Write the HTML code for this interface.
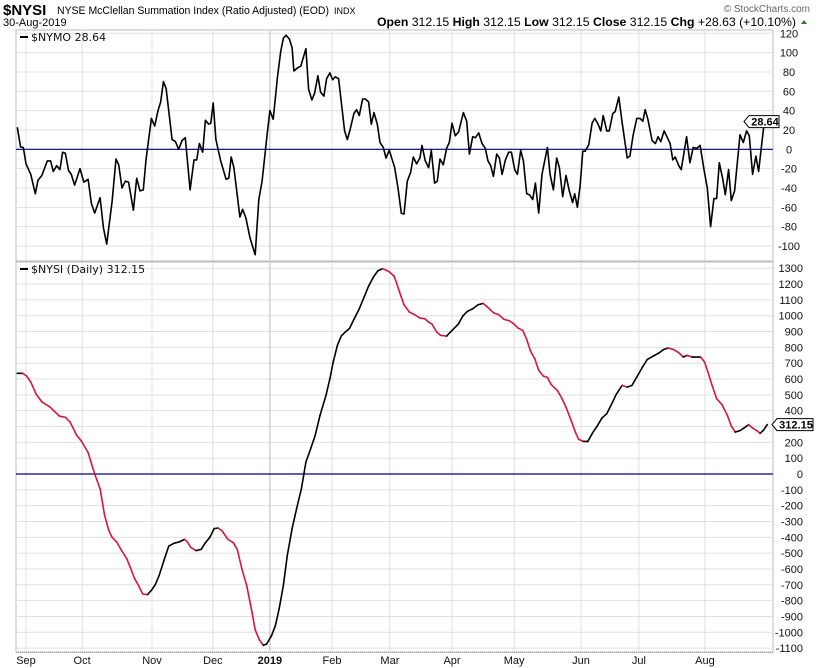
<!DOCTYPE html>
<html><head><meta charset="utf-8"><style>
body{margin:0;background:#fff;font-family:"Liberation Sans",sans-serif;}
svg{display:block}
</style></head><body>
<svg id="c" width="820" height="668" xmlns="http://www.w3.org/2000/svg" font-family="Liberation Sans, sans-serif">
<g>
<text x="3" y="15" font-size="15" font-weight="bold">$NYSI</text>
<text x="57" y="14" font-size="11" textLength="272" lengthAdjust="spacingAndGlyphs">NYSE McClellan Summation Index (Ratio Adjusted) (EOD)</text>
<text x="334" y="14" font-size="9">INDX</text>
<text x="810" y="12" font-size="10" fill="#666" text-anchor="end">© StockCharts.com</text>
<text x="3" y="26" font-size="11">30-Aug-2019</text>
<text x="377" y="26" font-size="12" textLength="419" lengthAdjust="spacingAndGlyphs"><tspan font-weight="bold">Open</tspan> 312.15 <tspan font-weight="bold">High</tspan> 312.15 <tspan font-weight="bold">Low</tspan> 312.15 <tspan font-weight="bold">Close</tspan> 312.15 <tspan font-weight="bold">Chg</tspan> +28.63 (+10.10%)</text>
<path d="M801 24 L807 24 L804 20 Z" fill="#2a7a2a"/>
</g>
<g id="grid"></g>
<g id="marks"></g>
<g id="axes"></g>
</svg>
<script>
// ---- data ----
const months = ["Sep","Oct","Nov","Dec","2019","Feb","Mar","Apr","May","Jun","Jul","Aug"];
const monthDays = [3,21.7,45,65.3,84.3,105,124.3,145,165.7,188,207.3,229.3];
const nymoDays = [0.1,1.2,2.1,3.0,4.6,6.1,7.0,8.3,10.1,11.2,12.1,13.2,14.3,15.2,16.1,17.2,18.1,19.2,21.0,22.3,23.7,24.8,25.9,27.7,28.8,29.9,31.7,33.0,33.9,35.0,36.1,37.2,38.8,39.9,41.0,42.1,43.0,44.8,45.9,47.0,47.9,48.8,49.7,51.7,52.8,53.9,55.0,56.1,57.7,59.0,59.9,60.8,61.9,62.8,63.9,64.6,65.4,66.3,67.9,69.7,70.6,71.4,72.3,74.3,75.2,76.3,77.7,79.4,80.6,81.7,83.4,84.3,85.4,86.8,87.9,88.8,89.7,90.8,91.7,92.3,93.4,94.6,96.3,97.2,98.3,99.2,100.3,101.2,102.3,103.2,104.3,105.2,106.1,107.2,109.2,110.1,111.0,112.3,113.2,114.1,115.2,116.1,117.2,118.1,119.0,120.1,121.0,122.1,123.0,124.1,
125.9,127.0,128.1,129.0,130.1,131.2,132.1,133.2,134.3,135.0,136.1,137.2,138.1,139.2,140.1,141.0,142.1,143.2,144.1,145.0,146.1,147.2,148.8,149.9,150.8,151.9,152.8,153.9,155.0,156.1,157.0,157.9,158.8,159.9,160.8,161.7,162.8,163.9,164.8,165.9,166.8,167.9,168.8,169.9,170.8,171.9,172.8,173.9,175.0,176.8,177.7,178.8,179.9,180.8,181.9,183.0,184.1,185.2,185.9,186.8,187.7,188.6,189.4,190.6,191.7,192.6,193.7,194.6,195.4,196.6,197.4,198.6,199.4,200.6,201.7,203.4,204.3,205.4,206.6,207.7,208.6,209.4,210.3,211.7,212.8,213.7,214.6,215.7,216.8,217.7,218.6,219.4,220.6,221.4,222.3,223.2,224.3,225.4,226.6,227.7,229.0,230.1,231.2,232.3,233.2,234.1,235.2,236.1,237.2,238.1,239.2,241.0,242.1,243.2,244.1,245.2,246.3,247.2,249.0,249.9];
const nymoValues = [22.8,2.4,2,-15,-26,-46,-32,-27,-12,-12,-23,-17,-21,-3,-4,-22,-26,-37,-20,-34,-31,-56,-66,-50,-81,-98,-54,-10,-16,-40,-33,-34,-63,-30,-43,-42,-11,32,24,40,49,70,63,10,8,0,9,12,-42,-11,-11,6,-3,30,26,27,48,10,-12,-31,-30,-8,-19,-70,-62,-71,-92,-109,-52,-33,16,40,31,74,101,115,118,114,105,81,84,86,104,62,51,58,76,59,55,73,79,72,75,73,19,10,20,37,41,35,52,52,49,26,38,26,7,2,-9,-1,
-19,-40,-66,-67,-33,-24,-8,-15,-9,4,-12,-19,-1,-35,-33,-10,-16,1,7,27,14,18,38,29,-5,13,12,17,6,1,-12,-17,-28,-5,-9,-26,-11,-3,-3,-21,-26,-1,-12,-46,-47,-52,-35,-66,-26,2,-26,-42,-9,-19,-49,-27,-43,-55,-46,-60,-38,-2,-2,5,27,32,26,19,35,19,19,37,39,54,28,-9,-7,15,32,32,29,41,31,9,6,13,8,19,12,6,-11,-8,-17,-21,-4,13,-14,2,1,4,-21,-40,-80,-51,-51,-14,-30,-47,-21,-53,-43,15,7,19,14,-26,-7,-23,26,28.64];
const nysiDays = [0.1,1.9,3.2,4.6,6.3,8.3,11.0,14.1,16.1,17.7,19.9,21.4,23.7,25.9,27.7,29.2,30.6,31.7,33.2,35.0,36.6,37.7,39.2,40.6,41.9,43.5,44.8,46.1,47.4,49.0,50.6,52.3,54.1,55.9,56.8,57.9,59.7,61.4,62.8,64.3,65.7,67.0,68.3,70.3,72.1,73.4,75.0,76.6,78.1,79.4,80.8,82.1,83.2,84.8,86.1,87.4,88.8,90.1,91.7,93.2,94.8,96.3,97.9,99.4,101.0,103.0,104.3,105.4,106.8,108.1,109.4,110.8,112.3,114.1,115.7,117.2,118.8,120.3,121.9,123.9,
125.7,126.8,127.9,129.0,130.8,132.6,134.3,135.9,137.2,138.3,139.9,141.2,143.2,145.0,147.2,148.6,150.1,151.9,153.7,155.4,157.2,158.8,160.6,162.3,164.1,165.7,167.0,168.6,169.9,171.2,172.6,173.9,175.4,176.8,178.1,180.1,181.7,183.2,184.8,186.1,187.2,188.8,190.3,191.9,193.4,195.0,196.6,198.1,199.7,201.7,203.4,205.0,206.6,208.3,210.1,212.1,214.1,215.4,217.0,218.8,220.6,222.1,223.4,225.0,227.9,229.2,230.3,231.7,233.2,235.0,236.8,238.1,239.4,241.0,242.3,243.9,245.2,246.6,247.7,248.8,250.1];
const nysiValues = [636,636,619,581,507,455,423,366,358,328,244,210,135,0,-93,-261,-356,-400,-429,-488,-535,-587,-661,-707,-758,-762,-735,-699,-640,-545,-455,-438,-429,-413,-429,-463,-484,-476,-434,-400,-345,-341,-358,-413,-434,-476,-602,-707,-850,-985,-1048,-1082,-1074,-1023,-960,-850,-703,-514,-345,-219,-93,76,160,244,370,497,602,707,813,872,897,918,977,1044,1118,1187,1244,1284,1297,1280,
1250,1191,1128,1069,1023,1006,985,981,960,947,897,876,871,907,949,998,1027,1044,1069,1078,1048,1019,1006,977,968,947,922,907,850,775,728,655,619,610,564,528,476,413,333,265,219,206,206,261,303,354,381,438,501,560,549,560,613,669,724,745,766,785,796,787,766,739,749,739,739,707,644,560,476,438,370,303,265,274,290,312,290,274,257,276,312.15];
const nymoTicks = [120,100,80,60,40,20,0,-20,-40,-60,-80,-100];
const nysiTicks = [1300,1200,1100,1000,900,800,700,600,500,400,300,200,100,0,-100,-200,-300,-400,-500,-600,-700,-800,-900,-1000,-1100];

// ---- scales ----
const L=16,R=773;
const x = d => 17 + d*3;
const yTop = v => 149.3 - v*0.967;
const yBot = v => 474 - v*0.1583;
const NS="http://www.w3.org/2000/svg";
function mk(tag, parent, attrs){const e=document.createElementNS(NS,tag);for(const k in attrs)e.setAttribute(k,attrs[k]);parent.appendChild(e);return e;}
const grid=document.getElementById('grid'), marks=document.getElementById('marks'), axes=document.getElementById('axes');

const p1=mk('rect',grid,{x:L,y:30,width:R-L,height:231,fill:'#fff',stroke:'#bbb'});


const p2=mk('rect',grid,{x:L,y:262,width:R-L,height:390,fill:'#fff',stroke:'#bbb'});



nymoTicks.forEach(t=>{
  const g=mk('line',grid,{x1:L,x2:R,y1:yTop(t),y2:yTop(t),stroke:'#e0e0e0'});
  
  
  const tx=mk('text',axes,{x:789,y:yTop(t)+4,'font-size':11,'text-anchor':'middle',fill:'#111'});
  tx.textContent=t;
  
  
});
nysiTicks.forEach(t=>{
  const g=mk('line',grid,{x1:L,x2:R,y1:yBot(t),y2:yBot(t),stroke:'#e0e0e0'});
  
  
  const tx=mk('text',axes,{x:803,y:yBot(t)+4,'font-size':11,'text-anchor':'end',fill:'#111'});
  tx.textContent=t;
  
  
});
months.forEach((m,i)=>{
  const xx=x(monthDays[i]);
  const col = m==="2019"?'#bbb':'#e0e0e0';
  [[31,260],[263,651]].forEach(([a,b])=>{
    const g=mk('line',grid,{x1:xx,x2:xx,y1:a,y2:b,stroke:col});
    
    
  });
  const tx=mk('text',axes,{x:xx,y:664,'font-size':11,'text-anchor':'middle',fill:'#111','font-weight':m==="2019"?'bold':'normal'});
  tx.textContent=m;
  
  
});
const bl=mk('line',axes,{x1:L,x2:R,y1:652.5,y2:652.5,stroke:'#999','stroke-dasharray':'1,1'});



const z1=mk('line',marks,{x1:L,x2:R,y1:yTop(0),y2:yTop(0),stroke:'#000080','stroke-width':1.2});


const z2=mk('line',marks,{x1:L,x2:R,y1:yBot(0),y2:yBot(0),stroke:'#000080','stroke-width':1.2});



let d='';
nymoDays.forEach((dd,i)=>{d+=(i?'L':'M')+x(dd).toFixed(1)+' '+yTop(nymoValues[i]).toFixed(1);});
const nl=mk('path',marks,{d:d,fill:'none',stroke:'#000','stroke-width':1.6,'stroke-linejoin':'round'});



for(let i=1;i<nysiDays.length;i++){
  const up=nysiValues[i]>=nysiValues[i-1];
  const s=mk('line',marks,{x1:x(nysiDays[i-1]),y1:yBot(nysiValues[i-1]),x2:x(nysiDays[i]),y2:yBot(nysiValues[i]),stroke:up?'#000':'#dc143c','stroke-width':1.6,'stroke-linecap':'round'});
  
  
}

function legend(y,label,name){
  const l=mk('line',axes,{x1:20,x2:28,y1:y-4,y2:y-4,stroke:'#000','stroke-width':2});
  
  
  const t=mk('text',axes,{x:31,y:y,'font-size':11,fill:'#111','font-family':'DejaVu Sans, sans-serif'});
  t.textContent=label;
  
  
}
legend(41,'$NYMO 28.64','nymo-legend');
legend(273,'$NYSI (Daily) 312.15','nysi-legend');

function tag(yv,label,w,xl,name){
  const p=mk('path',axes,{d:`M${xl} ${yv} L${xl+5} ${yv-6} L${xl+5+w} ${yv-6} L${xl+5+w} ${yv+6} L${xl+5} ${yv+6} Z`,fill:'#fff',stroke:'#000'});
  
  
  const t=mk('text',axes,{x:xl+6+w/2,y:yv+4,'font-size':11,'font-weight':'bold','text-anchor':'middle'});
  t.textContent=label;
  
  
}
tag(yTop(nymoValues[nymoValues.length-1]),'28.64',30,744,'nymo-last-value');
tag(yBot(nysiValues[nysiValues.length-1]),'312.15',36,772,'nysi-last-value');
</script>
</body></html>
